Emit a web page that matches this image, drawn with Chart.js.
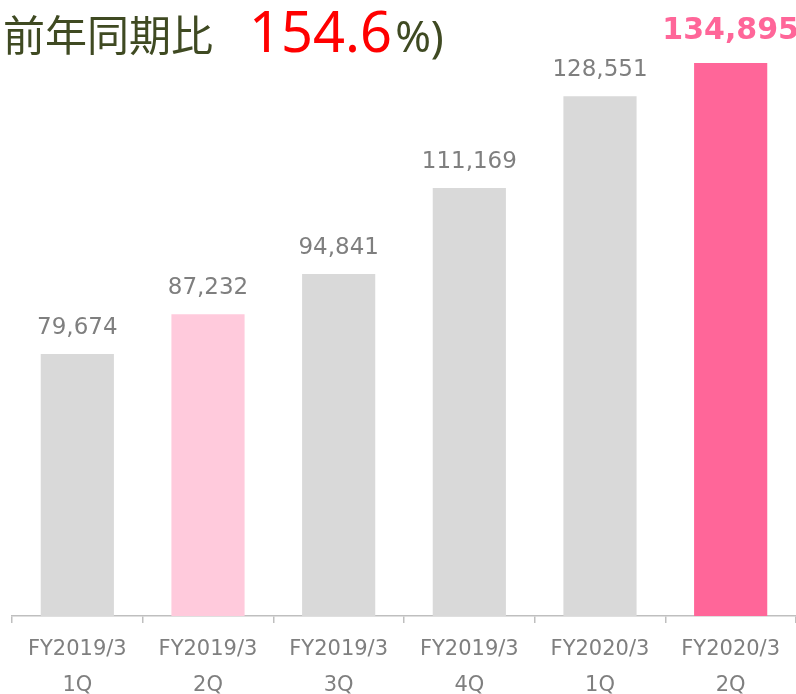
<!DOCTYPE html>
<html>
<head>
<meta charset="utf-8">
<script src="https://cdn.jsdelivr.net/npm/chart.js@4.4.1/dist/chart.umd.min.js"></script>
<style>
  html, body { margin: 0; padding: 0; background: #fff; }
  #wrap { width: 796px; height: 694px; position: relative; }
</style>
</head>
<body>
<div id="wrap"><canvas id="sales-chart"></canvas></div>
<script>
const quarters = [
    ["FY2019/3", "1Q"],
    ["FY2019/3", "2Q"],
    ["FY2019/3", "3Q"],
    ["FY2019/3", "4Q"],
    ["FY2020/3", "1Q"],
    ["FY2020/3", "2Q"],
];
const sales = [79674, 87232, 94841, 111169, 128551, 134895];
const barColors = ["#d9d9d9", "#ffcadc", "#d9d9d9", "#d9d9d9", "#d9d9d9", "#ff6699"];
const titleMain = "前年同期比";
const titleRate = "154.6";
const titleTail = "%)";

const OLIVE = "#3f4a22";
const GRAY_TEXT = "#7f7f7f";

// value labels above each bar (no datalabels plugin available offline)
const valueLabels = {
    id: "valueLabels",
    afterDatasetsDraw(chart) {
        const { ctx } = chart;
        const meta = chart.getDatasetMeta(0);
        const last = meta.data.length - 1;
        ctx.save();
        ctx.textAlign = "center";
        ctx.textBaseline = "alphabetic";
        meta.data.forEach((bar, i) => {
            const txt = sales[i].toLocaleString("en-US");
            if (i === last) {
                ctx.font = "bold 30px 'DejaVu Sans'";
                ctx.fillStyle = "#ff6699";
                ctx.fillText(txt, bar.x, bar.y - 24);
            } else {
                ctx.font = "23px 'DejaVu Sans'";
                ctx.fillStyle = GRAY_TEXT;
                ctx.fillText(txt, bar.x, bar.y - 20);
            }
        });
        ctx.restore();
    },
};

// headline with the mixed colours
const headline = {
    id: "headline",
    afterDraw(chart) {
        const { ctx } = chart;
        ctx.save();
        ctx.textBaseline = "alphabetic";
        ctx.textAlign = "left";
        ctx.font = "42px 'Noto Sans CJK JP'";
        ctx.fillStyle = OLIVE;
        ctx.fillText(titleMain, 3, 51);
        ctx.font = "56px 'Noto Sans'";
        ctx.fillStyle = "#ff0000";
        ctx.fillText(titleRate, 249, 52);
        const w = ctx.measureText(titleRate).width;
        ctx.font = "43px 'Noto Sans'";
        ctx.fillStyle = OLIVE;
        ctx.fillText(titleTail, 249 + w + 3, 52);
        ctx.restore();
    },
};

function salesChart() {
    const ctx = document.getElementById("sales-chart").getContext("2d");

    const config = {
        type: "bar",
        data: {
            labels: quarters,
            datasets: [
                {
                    data: sales,
                    backgroundColor: barColors,
                    borderWidth: 0,
                    barPercentage: 0.56,
                    categoryPercentage: 1,
                },
            ],
        },
        options: {
            responsive: true,
            maintainAspectRatio: false,
            animation: false,
            layout: { padding: { top: 36, left: 12, right: 0, bottom: 0 } },
            plugins: {
                legend: { display: false },
                tooltip: { enabled: false },
            },
            scales: {
                x: {
                    offset: true,
                    grid: {
                        offset: true,
                        drawOnChartArea: false,
                        drawTicks: true,
                        tickLength: 7,
                        color: "#bfbfbf",
                        lineWidth: 1.5,
                    },
                    border: { display: true, color: "#bfbfbf", width: 1.5 },
                    ticks: {
                        color: GRAY_TEXT,
                        padding: 8,
                        maxRotation: 0,
                        autoSkip: false,
                        font: { family: "'DejaVu Sans'", size: 21, lineHeight: 1.72 },
                    },
                    afterFit(scale) {
                        scale.height = 78;
                    },
                },
                y: {
                    display: false,
                    min: 30000,
                    max: 140000,
                },
            },
        },
        plugins: [valueLabels, headline],
    };

    new Chart(ctx, config);
}

document.addEventListener("DOMContentLoaded", salesChart);
</script>
</body>
</html>
